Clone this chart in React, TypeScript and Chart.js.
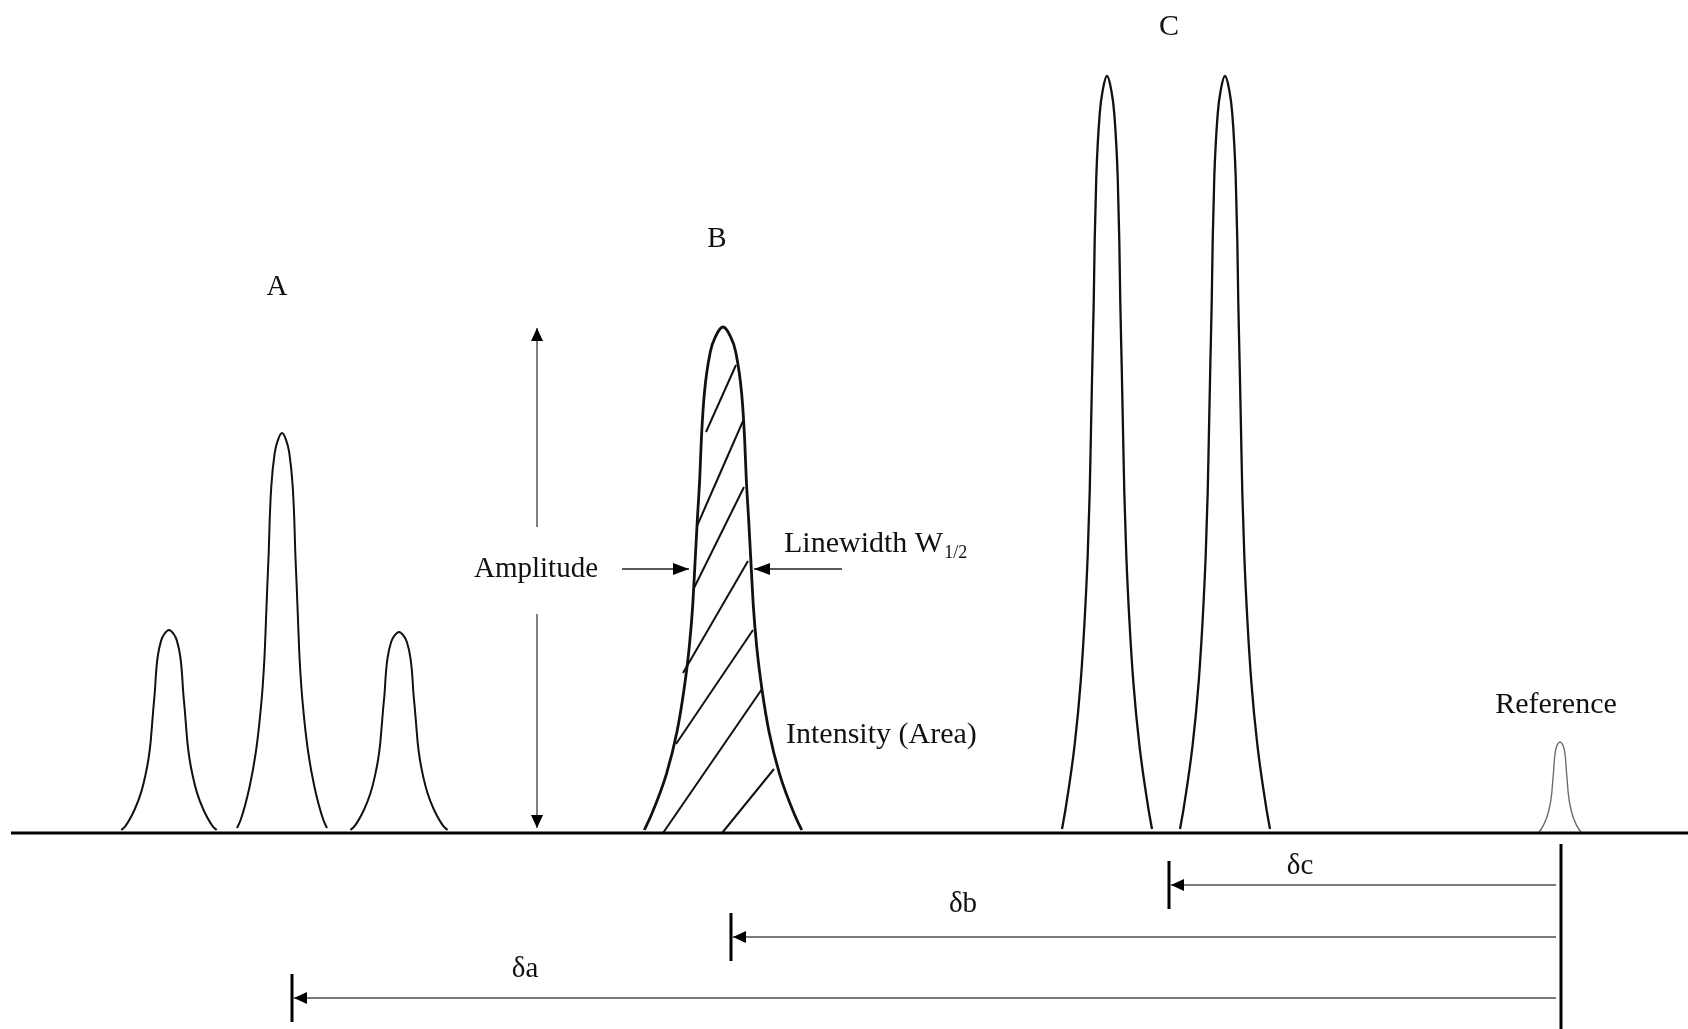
import React, { useEffect, useRef } from "react";
import { Chart, registerables } from "chart.js";

Chart.register(...registerables);

// ---- axis domain (horizontal position units, vertical amplitude units; baseline = 0) ----
const X_MIN = 0;
const X_MAX = 1688;
const Y_MIN = -196;
const Y_MAX = 833;

// ---- peaks ----
const PEAK_NAMES = ["A1", "A2", "A3", "B", "C1", "C2", "Reference"];
const PEAK_CENTERS = [169, 282, 399, 723, 1107, 1225, 1560];
const PEAK_HEIGHTS = [203, 400, 201, 506, 757, 757, 91];
const PEAK_WIDTH_FACTORS = [1.06, 1.0, 1.08, 1.75, 1.0, 1.0, 0.47];
// height of the drawn feet of each peak above the baseline
const PEAK_FOOT = [3, 5, 3, 3, 4, 4, 1];

// line shape read from the tallest A peak: half-width at each relative height
const SHAPE_HALF_WIDTH = [0, 4, 7.3, 10.7, 12.3, 13.3, 14.7, 16, 17.3, 19.3, 22.3, 26.3, 32.3, 41.3, 45];
const SHAPE_REL_HEIGHT = [1, 0.983, 0.95, 0.867, 0.783, 0.7, 0.617, 0.533, 0.45, 0.367, 0.283, 0.2, 0.117, 0.033, 0.012];

// ---- baseline ----
const BASELINE_X = [11, 1688];
const BASELINE_Y = [0, 0];

// ---- hatching inside peak B (start / end of each stroke) ----
const HATCH_X1 = [706, 697, 694, 683, 676, 663, 722];
const HATCH_Y1 = [401, 307, 245, 160, 89, 0, 0];
const HATCH_X2 = [736, 743, 744, 748, 753, 762, 774];
const HATCH_Y2 = [468, 412, 346, 272, 203, 144, 64];

// ---- amplitude arrow ----
const AMP_X = 537;
const AMP_TOP = 505;
const AMP_GAP_TOP = 306;
const AMP_GAP_BOTTOM = 219;
const AMP_BOTTOM = 5;

// ---- linewidth arrows ----
const LW_Y = 264;
const LW_LEFT_FROM = 622;
const LW_LEFT_TO = 689;
const LW_RIGHT_FROM = 842;
const LW_RIGHT_TO = 754;

// ---- chemical shift arrows ----
const SHIFT_NAMES = ["δa", "δb", "δc"];
const SHIFT_PEAK_X = [292, 731, 1169];
const SHIFT_Y = [-165, -104, -52];
const SHIFT_TICK_HALF = 24;
const SHIFT_START_X = 1556;
const REF_LINE_X = 1561;
const REF_LINE_Y = [-11, -196];

// ---- text labels ----
const LABEL_TEXT = ["A", "B", "C", "Reference", "Amplitude", "Intensity (Area)", "δa", "δb", "δc"];
const LABEL_X = [277, 717, 1169, 1556, 536, 786, 525, 963, 1300];
const LABEL_Y = [538, 586, 798, 120, 256, 90, -144, -79, -41];
const LABEL_ALIGN = ["center", "center", "center", "center", "center", "left", "center", "center", "center"];
const LABEL_SIZE = [29, 29, 30, 30, 29, 30, 29, 29, 29];
const LINEWIDTH_TEXT = "Linewidth W";
const LINEWIDTH_SUB = "1/2";
const LINEWIDTH_X = 784;
const LINEWIDTH_Y = 281;

const FONT = '"Liberation Serif", "Times New Roman", serif';

function peakPoints(i: number) {
  const c = PEAK_CENTERS[i];
  const h = PEAK_HEIGHTS[i];
  const f = PEAK_WIDTH_FACTORS[i];
  const last = SHAPE_HALF_WIDTH.length - 1;
  const yAt = (k: number) => (k === last ? PEAK_FOOT[i] : SHAPE_REL_HEIGHT[k] * h);
  const pts: { x: number; y: number }[] = [];
  for (let k = last; k >= 0; k--) {
    pts.push({ x: c - SHAPE_HALF_WIDTH[k] * f, y: yAt(k) });
  }
  for (let k = 1; k <= last; k++) {
    pts.push({ x: c + SHAPE_HALF_WIDTH[k] * f, y: yAt(k) });
  }
  return pts;
}

type Arrow = [number, number, number, number, number, number]; // x1,y1,x2,y2,len,half

function buildArrows(): Arrow[] {
  const arr: Arrow[] = [
    [AMP_X, AMP_GAP_TOP, AMP_X, AMP_TOP, 13, 6],
    [AMP_X, AMP_GAP_BOTTOM, AMP_X, AMP_BOTTOM, 13, 6],
    [LW_LEFT_FROM, LW_Y, LW_LEFT_TO, LW_Y, 16, 6],
    [LW_RIGHT_FROM, LW_Y, LW_RIGHT_TO, LW_Y, 16, 6],
  ];
  SHIFT_NAMES.forEach((_, i) => {
    arr.push([SHIFT_START_X, SHIFT_Y[i], SHIFT_PEAK_X[i] + 2, SHIFT_Y[i], 13, 6]);
  });
  return arr;
}

function line(points: { x: number; y: number }[], color: string, width: number, extra: any = {}) {
  return {
    data: points,
    showLine: true,
    borderColor: color,
    backgroundColor: color,
    borderWidth: width,
    pointRadius: 0,
    fill: false,
    tension: 0,
    borderCapStyle: "butt",
    ...extra,
  };
}

export default function App() {
  const ref = useRef<HTMLCanvasElement | null>(null);

  useEffect(() => {
    document.body.style.margin = "0";
    const canvas = ref.current;
    if (!canvas) return;

    const arrows = buildArrows();
    const datasets: any[] = [];

    // baseline
    datasets.push(line(BASELINE_X.map((x, i) => ({ x, y: BASELINE_Y[i] })), "#000", 3));

    // peaks
    PEAK_NAMES.forEach((name, i) => {
      let color = "#111";
      let width = 2;
      if (name === "B") width = 2.8;
      if (name.startsWith("C")) width = 2.3;
      if (name === "Reference") {
        color = "#6f6f6f";
        width = 1.4;
      }
      datasets.push(
        line(peakPoints(i), color, width, { cubicInterpolationMode: "monotone", borderJoinStyle: "round" })
      );
    });

    // hatching
    HATCH_X1.forEach((x1, i) => {
      datasets.push(
        line(
          [
            { x: x1, y: HATCH_Y1[i] },
            { x: HATCH_X2[i], y: HATCH_Y2[i] },
          ],
          "#111",
          2
        )
      );
    });

    // arrow shafts
    arrows.forEach((a, i) => {
      const isShift = i >= 4;
      const isAmp = i < 2;
      datasets.push(
        line(
          [
            { x: a[0], y: a[1] },
            { x: a[2], y: a[3] },
          ],
          isShift ? "#7a7a7a" : isAmp ? "#555" : "#222",
          isShift ? 2 : 1.5
        )
      );
    });

    // shift ticks
    SHIFT_PEAK_X.forEach((x, i) => {
      datasets.push(
        line(
          [
            { x, y: SHIFT_Y[i] + SHIFT_TICK_HALF },
            { x, y: SHIFT_Y[i] - SHIFT_TICK_HALF },
          ],
          "#000",
          3
        )
      );
    });

    // reference vertical line
    datasets.push(
      line(
        [
          { x: REF_LINE_X, y: REF_LINE_Y[0] },
          { x: REF_LINE_X, y: REF_LINE_Y[1] },
        ],
        "#000",
        3
      )
    );

    const annotationPlugin = {
      id: "annotations",
      afterDatasetsDraw(chart: any) {
        const { ctx } = chart;
        const xs = chart.scales.x;
        const ys = chart.scales.y;
        ctx.save();
        // arrow heads
        ctx.fillStyle = "#000";
        arrows.forEach((a) => {
          const x1 = xs.getPixelForValue(a[0]);
          const y1 = ys.getPixelForValue(a[1]);
          const x2 = xs.getPixelForValue(a[2]);
          const y2 = ys.getPixelForValue(a[3]);
          const dx = x2 - x1;
          const dy = y2 - y1;
          const L = Math.hypot(dx, dy) || 1;
          const ux = dx / L;
          const uy = dy / L;
          const bx = x2 - ux * a[4];
          const by = y2 - uy * a[4];
          ctx.beginPath();
          ctx.moveTo(x2, y2);
          ctx.lineTo(bx - uy * a[5], by + ux * a[5]);
          ctx.lineTo(bx + uy * a[5], by - ux * a[5]);
          ctx.closePath();
          ctx.fill();
        });
        // labels
        ctx.fillStyle = "#111";
        ctx.textBaseline = "alphabetic";
        LABEL_TEXT.forEach((t, i) => {
          ctx.font = `${LABEL_SIZE[i]}px ${FONT}`;
          ctx.textAlign = LABEL_ALIGN[i];
          ctx.fillText(t, xs.getPixelForValue(LABEL_X[i]), ys.getPixelForValue(LABEL_Y[i]));
        });
        // Linewidth W1/2 with subscript
        ctx.textAlign = "left";
        ctx.font = `30px ${FONT}`;
        const lx = xs.getPixelForValue(LINEWIDTH_X);
        const ly = ys.getPixelForValue(LINEWIDTH_Y);
        ctx.fillText(LINEWIDTH_TEXT, lx, ly);
        const w = ctx.measureText(LINEWIDTH_TEXT).width;
        ctx.font = `18px ${FONT}`;
        ctx.fillText(LINEWIDTH_SUB, lx + w + 1, ly + 6);
        ctx.restore();
      },
    };

    const chart = new Chart(canvas, {
      type: "scatter",
      data: { datasets },
      options: {
        animation: false,
        responsive: false,
        maintainAspectRatio: false,
        events: [],
        layout: { padding: 0 },
        plugins: { legend: { display: false }, tooltip: { enabled: false } },
        scales: {
          x: { type: "linear", min: X_MIN, max: X_MAX, display: false },
          y: { type: "linear", min: Y_MIN, max: Y_MAX, display: false },
        },
      },
      plugins: [annotationPlugin],
    } as any);

    return () => chart.destroy();
  }, []);

  return (
    <div style={{ width: 1688, height: 1029, background: "#fff" }}>
      <canvas ref={ref} width={1688} height={1029} style={{ display: "block" }} />
    </div>
  );
}
